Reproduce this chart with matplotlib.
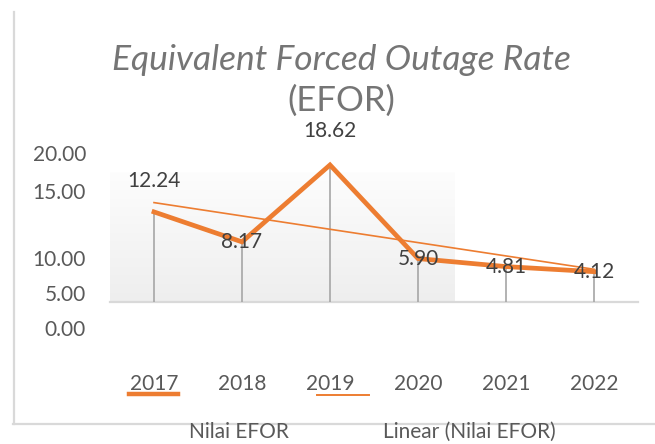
import numpy as np
import matplotlib
matplotlib.use("Agg")
import matplotlib.pyplot as plt
from matplotlib.lines import Line2D
from matplotlib.transforms import blended_transform_factory

plt.rcParams['font.family'] = ['Lato', 'DejaVu Sans']

# ---- data ----
years = ["2017", "2018", "2019", "2020", "2021", "2022"]
efor = [12.24, 8.17, 18.62, 5.90, 4.81, 4.12]
ytick_labels = ["20.00", "15.00", "10.00", "5.00", "0.00"]
title_line1 = "Equivalent Forced Outage Rate"
title_line2 = "(EFOR)"
legend_labels = ["Nilai EFOR", "Linear (Nilai EFOR)"]

# ---- layout (as rendered in the reference) ----
W, H = 655, 444
ytick_pos = [19.97, 14.8, 5.7, 0.95, -3.8]   # where the labels sit on the value scale
label_offsets = [31, 0, 34, 0, 0, 0]         # px above each point

orange = "#ED7D31"
fig = plt.figure(figsize=(W / 100, H / 100), dpi=100)
fig.patch.set_facecolor("white")

def fx(px):
    return px / W

def fy(py):
    return 1 - py / H

ax = fig.add_axes([fx(110), fy(302), fx(638) - fx(110), fy(172) - fy(302)])
ax.set_xlim(-0.5, 5.5)
ax.set_ylim(0, 130 / 7.36)
ax.axis("off")

x = np.arange(len(years))
y = np.array(efor)

# gradient background region
grad = np.linspace(0, 1, 100).reshape(-1, 1)
ax.imshow(grad, extent=(-0.5, 3.41, 0, 130 / 7.36), aspect="auto",
          cmap=matplotlib.colors.LinearSegmentedColormap.from_list("g", ["#fdfdfd", "#eeeeee"]),
          origin="upper", zorder=0)

# baseline
ax.plot([-0.5, 5.5], [0, 0], color="#d9d9d9", lw=1.6, zorder=1, clip_on=False)

# drop lines
ax.vlines(x, 0, y, color="#a6a6a6", lw=1.2, zorder=2, clip_on=False)

# trend line
slope, intercept = np.polyfit(x, y, 1)
ax.plot(x, slope * x + intercept, color=orange, lw=1.2, zorder=3, clip_on=False)

# main line
ax.plot(x, y, color=orange, lw=3.4, zorder=4, clip_on=False, solid_joinstyle="miter")

# data labels
for xi, yi, off in zip(x, y, label_offsets):
    ax.annotate(f"{yi:.2f}", (xi, yi), xytext=(0, off * 0.72), textcoords="offset points",
                ha="center", va="center", fontsize=15, color="#404040", zorder=5,
                annotation_clip=False)

# y labels
ytr = blended_transform_factory(fig.transFigure, ax.transData)
for lab, pos in zip(ytick_labels, ytick_pos):
    ax.text(fx(86), pos, lab, transform=ytr, ha="right", va="center",
            fontsize=15, color="#595959", clip_on=False)

# x labels
xtr = blended_transform_factory(ax.transData, fig.transFigure)
for xi, lab in zip(x, years):
    ax.text(xi, fy(384), lab, transform=xtr, ha="center", va="center",
            fontsize=15, color="#595959", clip_on=False)

# title
fig.text(fx(341), fy(60), title_line1, ha="center", va="center", fontsize=25.5,
         style="italic", color="#757575")
fig.text(fx(341), fy(101), title_line2, ha="center", va="center", fontsize=25,
         color="#757575")

# legend
fig.add_artist(Line2D([fx(129), fx(178)], [fy(394), fy(394)], color=orange, lw=3.2))
fig.add_artist(Line2D([fx(317), fx(369)], [fy(395), fy(395)], color=orange, lw=1.4))
fig.text(fx(239), fy(432), legend_labels[0], ha="center", va="center", fontsize=15, color="#595959")
fig.text(fx(469), fy(432), legend_labels[1], ha="center", va="center", fontsize=15, color="#595959")

# chart border
fig.add_artist(Line2D([fx(13.5), fx(13.5)], [fy(12), fy(424)], color="#d9d9d9", lw=1.6))
fig.add_artist(Line2D([fx(13), fx(655)], [fy(424), fy(424)], color="#d9d9d9", lw=1.6))

fig.savefig("out.png", dpi=100)
